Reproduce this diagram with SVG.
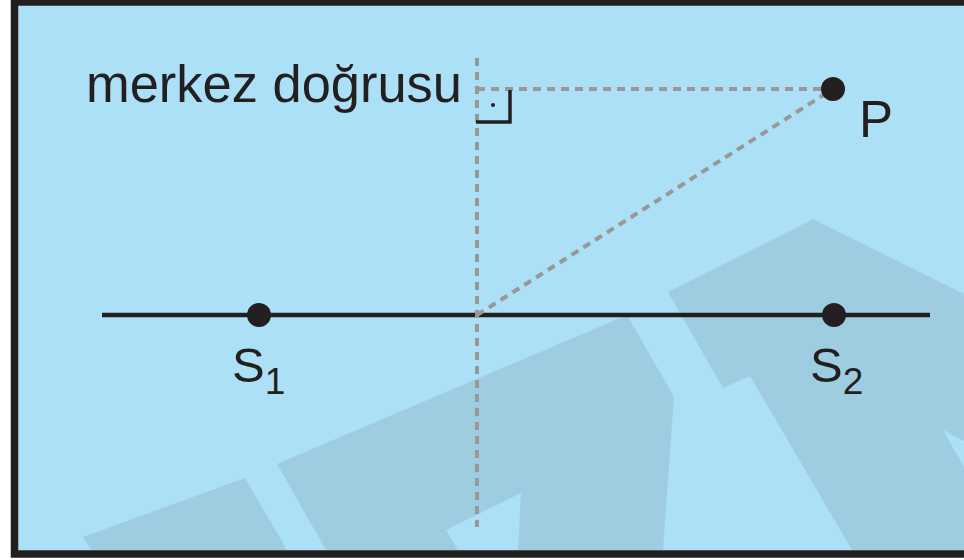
<svg xmlns="http://www.w3.org/2000/svg" width="964" height="560" viewBox="0 0 964 560">
<style>
.wm{fill:#9ecde1}
.dash{stroke:#9a9797;stroke-width:4;stroke-dasharray:8 6;fill:none}
.solid{stroke:#231f20;fill:none}
.dot{fill:#231f20}
.lbl{font-family:"Liberation Sans",Arial,sans-serif;fill:#231f20}
</style>
<rect x="0" y="0" width="964" height="560" fill="#ffffff"/>
<rect x="14.5" y="2" width="990" height="552" fill="#ace0f6"/>
<g id="watermark">
<polygon class="wm" points="83,537 245,478 287,550 91,550"/>
<polygon class="wm" points="277,464 627,315 674,397 663,550 518,550 521,493 446,530 458,550 326,550"/>
<polygon class="wm" points="668,292 813,219 964,294 964,441 943,430 964,467 964,550 852,550 750,376 723,388"/>
</g>
<rect x="14.5" y="2" width="990" height="552" fill="none" stroke="#231f20" stroke-width="7.5"/>
<g id="connectors">
<line class="solid" x1="102" y1="315" x2="930" y2="315" stroke-width="4.5"/>
<line class="dash" x1="477" y1="58" x2="477" y2="527"/>
<line class="dash" x1="477" y1="89" x2="833" y2="89"/>
<line class="dash" x1="477" y1="315" x2="833" y2="89"/>
<polyline class="solid" points="476,122 510,122 510,90" stroke-width="3.5"/>
<circle class="dot" cx="493" cy="105" r="2"/>
</g>
<g id="label-merkez">
<text class="lbl" x="86" y="102" font-size="51" textLength="376" lengthAdjust="spacingAndGlyphs">merkez doğrusu</text>
</g>
<g id="node-P">
<circle class="dot" cx="833" cy="89" r="12"/>
<text class="lbl" x="859" y="137" font-size="51">P</text>
</g>
<g id="node-S1">
<circle class="dot" cx="259" cy="315" r="12"/>
<text class="lbl" x="232" y="382" font-size="49">S<tspan font-size="37" dy="12">1</tspan></text>
</g>
<g id="node-S2">
<circle class="dot" cx="834" cy="315" r="12"/>
<text class="lbl" x="810" y="382" font-size="49">S<tspan font-size="37" dy="12">2</tspan></text>
</g>
</svg>
